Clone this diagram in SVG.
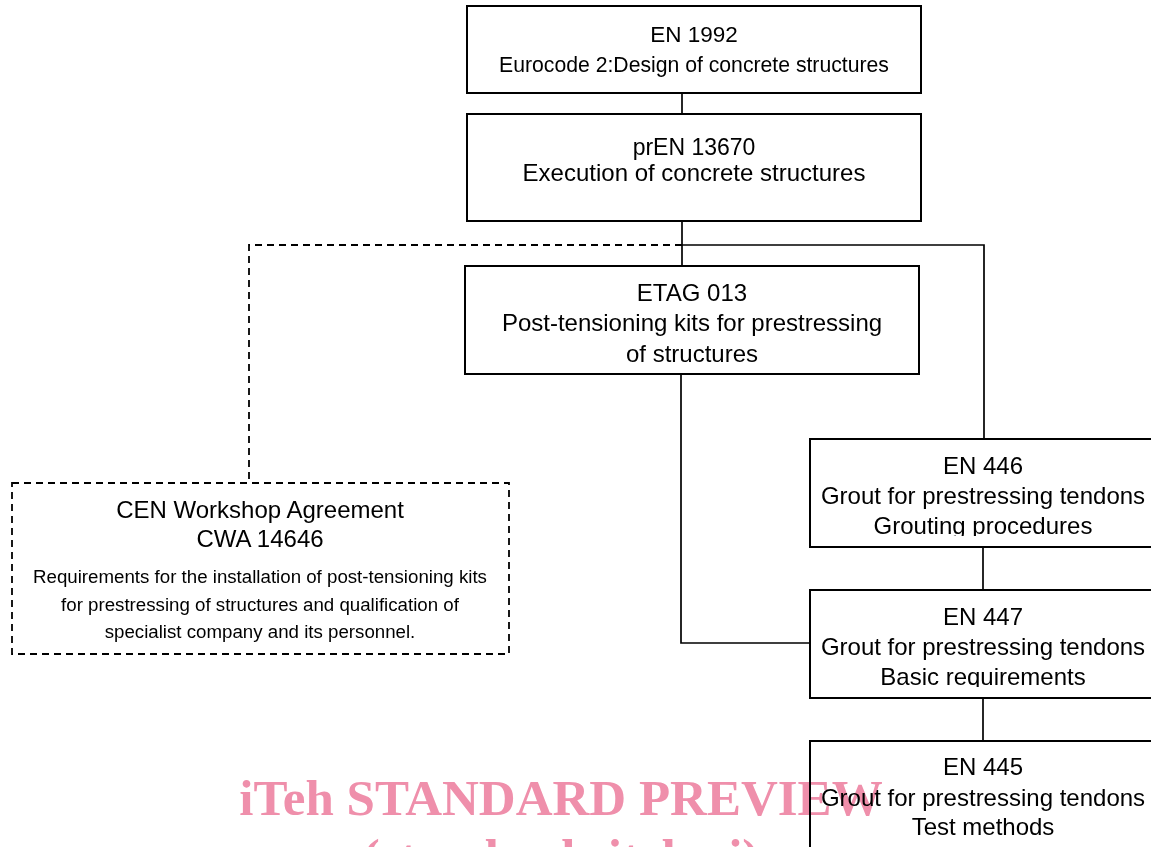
<svg xmlns="http://www.w3.org/2000/svg" width="1151" height="847" viewBox="0 0 1151 847">
<style>
  .box { fill: none; stroke: #000; stroke-width: 2; }
  .dbox { fill: none; stroke: #000; stroke-width: 1.8; stroke-dasharray: 7 5; }
  .ln { fill: none; stroke: #000; stroke-width: 1.7; }
  .dln { fill: none; stroke: #000; stroke-width: 1.8; stroke-dasharray: 7 5; }
  text { font-family: "Liberation Sans", Arial, sans-serif; fill: #000; text-anchor: middle; }
  .t24 { font-size: 24px; }
  .wm { font-family: "Liberation Serif", "Times New Roman", serif; font-weight: bold; font-size: 51px; fill: #ef8fab; mix-blend-mode: multiply; }
</style>
<defs>
  <clipPath id="clip446"><rect x="800" y="430" width="360" height="106"/></clipPath>
  <clipPath id="clip447"><rect x="800" y="580" width="360" height="107"/></clipPath>
</defs>
<rect width="1151" height="847" fill="#fff"/>

<g id="connectors">
  <line class="ln" x1="682" y1="93" x2="682" y2="114"/>
  <line class="ln" x1="682" y1="221" x2="682" y2="266"/>
  <polyline class="ln" points="682,245 984,245 984,439"/>
  <polyline class="dln" points="682,245 249,245 249,483"/>
  <polyline class="ln" points="681,374 681,643 810,643"/>
  <line class="ln" x1="983" y1="547" x2="983" y2="590"/>
  <line class="ln" x1="983" y1="698" x2="983" y2="741"/>
</g>

<g id="en1992">
  <rect class="box" x="467" y="6" width="454" height="87"/>
  <text x="694" y="42" font-size="22.5">EN 1992</text>
  <text x="694" y="72" font-size="21.2">Eurocode 2:Design of concrete structures</text>
</g>

<g id="pren13670">
  <rect class="box" x="467" y="114" width="454" height="107"/>
  <text x="694" y="155" font-size="23">prEN 13670</text>
  <text x="694" y="181" class="t24">Execution of concrete structures</text>
</g>

<g id="etag013">
  <rect class="box" x="465" y="266" width="454" height="108"/>
  <text x="692" y="301" class="t24">ETAG 013</text>
  <text x="692" y="331" class="t24">Post-tensioning kits for prestressing</text>
  <text x="692" y="362" class="t24">of structures</text>
</g>

<g id="cwa14646">
  <rect class="dbox" x="12" y="483" width="497" height="171"/>
  <text x="260" y="518" class="t24">CEN Workshop Agreement</text>
  <text x="260" y="547" class="t24">CWA 14646</text>
  <text x="260" y="583" font-size="18.7">Requirements for the installation of post-tensioning kits</text>
  <text x="260" y="611" font-size="18.7">for prestressing of structures and qualification of</text>
  <text x="260" y="638" font-size="18.7">specialist company and its personnel.</text>
</g>

<g id="en446">
  <rect class="box" x="810" y="439" width="346" height="108"/>
  <g clip-path="url(#clip446)">
    <text x="983" y="474" class="t24">EN 446</text>
    <text x="983" y="504" class="t24">Grout for prestressing tendons</text>
    <text x="983" y="534" class="t24">Grouting procedures</text>
  </g>
</g>

<g id="en447">
  <rect class="box" x="810" y="590" width="346" height="108"/>
  <g clip-path="url(#clip447)">
    <text x="983" y="625" class="t24">EN 447</text>
    <text x="983" y="655" class="t24">Grout for prestressing tendons</text>
    <text x="983" y="685" class="t24">Basic requirements</text>
  </g>
</g>

<g id="en445">
  <rect class="box" x="810" y="741" width="346" height="120"/>
  <text x="983" y="775" class="t24">EN 445</text>
  <text x="983" y="806" class="t24">Grout for prestressing tendons</text>
  <text x="983" y="835" class="t24">Test methods</text>
</g>

<g id="watermark">
  <text class="wm" x="561" y="815">iTeh STANDARD PREVIEW</text>
  <text class="wm" x="561" y="874">(standards.iteh.ai)</text>
</g>
</svg>
